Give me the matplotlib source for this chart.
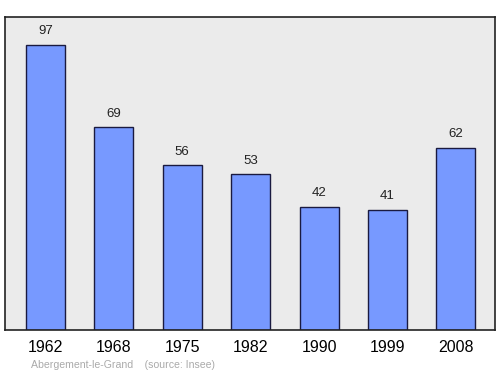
import matplotlib
matplotlib.use("Agg")
from matplotlib import pyplot as plt

years = ['1962', '1968', '1975', '1982', '1990', '1999', '2008']
population = [97, 69, 56, 53, 42, 41, 62]

plt.rcParams['font.family'] = ['Liberation Sans', 'DejaVu Sans']

fig = plt.figure(figsize=(5, 3.74), dpi=100)
ax = fig.add_axes([0.01, 1 - 330 / 374, 0.98, 313 / 374])
ax.set_facecolor('#ebebeb')

x = list(range(len(years)))
ax.bar(x, population, width=0.57, color='#7799ff', edgecolor='#1a1a40', linewidth=1)
for xi, v in zip(x, population):
    ax.text(xi, v + 2.6, str(v), ha='center', va='bottom', fontsize=9.5, color='#222222')

ax.set_xlim(-0.59, 6.57)
ax.set_ylim(0, 106.5)
ax.set_xticks(x)
ax.set_xticklabels(years, fontsize=11.5)
ax.tick_params(axis='x', length=0, pad=7.5)
ax.set_yticks([])
for s in ax.spines.values():
    s.set_color('#222222')
    s.set_linewidth(1.2)

fig.text(31 / 500, 1 - 365.5 / 374, 'Abergement-le-Grand    (source: Insee)',
         fontsize=7.6, color='#aaaaaa', va='center', ha='left')

fig.savefig('out.png', dpi=100)
